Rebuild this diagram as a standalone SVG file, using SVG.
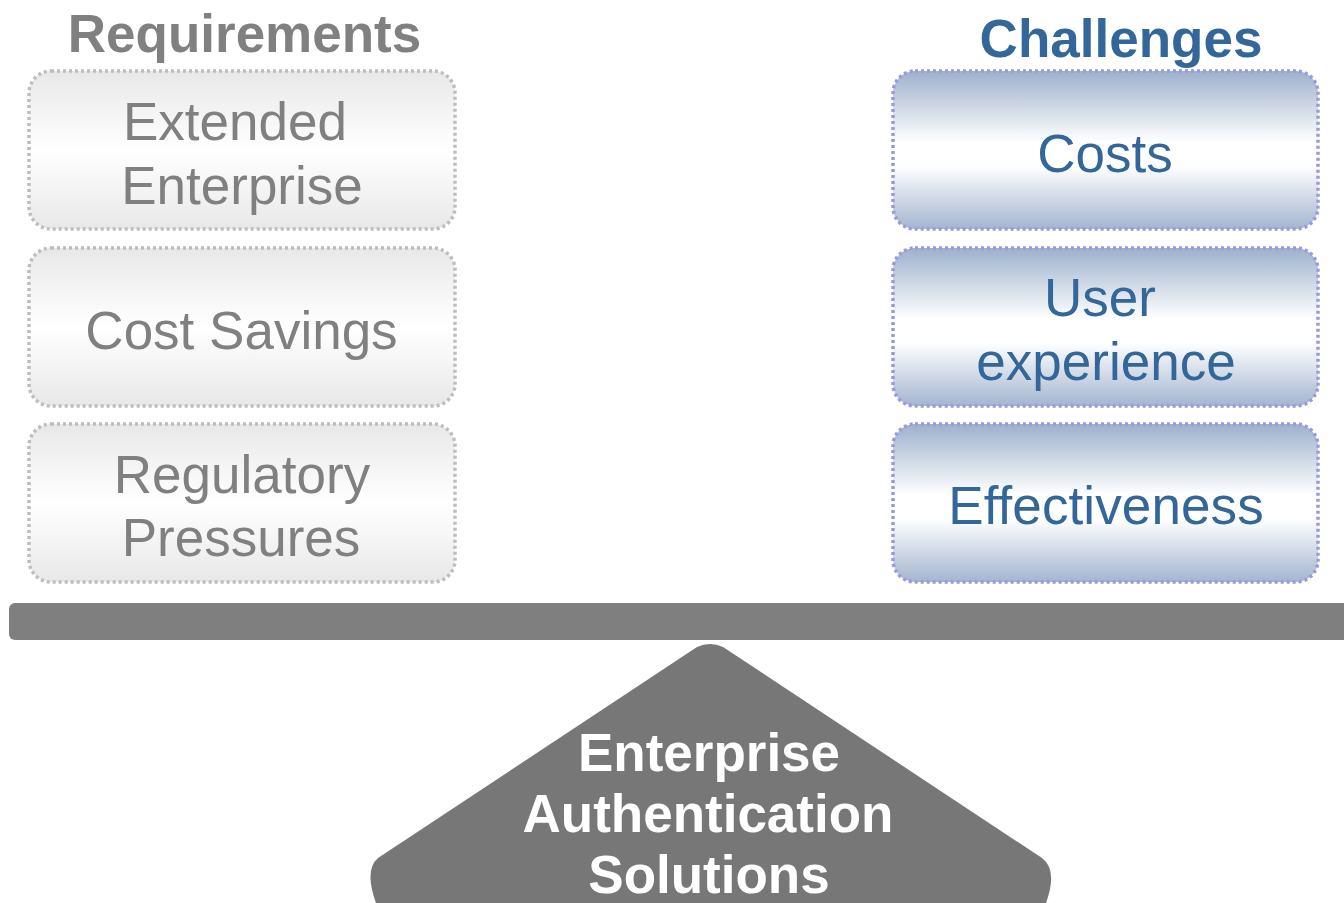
<svg xmlns="http://www.w3.org/2000/svg" width="1344" height="903" viewBox="0 0 1344 903">
<defs>
<linearGradient id="gGray" x1="0" y1="0" x2="0" y2="1">
<stop offset="0" stop-color="#e8e8e8"/>
<stop offset="0.5" stop-color="#ffffff"/>
<stop offset="1" stop-color="#e8e8e8"/>
</linearGradient>
<linearGradient id="gBlue" x1="0" y1="0" x2="0" y2="1">
<stop offset="0" stop-color="#9db1cc"/>
<stop offset="0.45" stop-color="#ffffff"/>
<stop offset="0.6" stop-color="#ffffff"/>
<stop offset="1" stop-color="#a3b5cf"/>
</linearGradient>
<style>
.lbox{fill:url(#gGray);stroke:#bdbdbd;stroke-width:3.5;stroke-dasharray:3 3}
.rbox{fill:url(#gBlue);stroke:#9999e0;stroke-width:3.5;stroke-dasharray:3 3}
.t{font-family:"Liberation Sans",Arial,sans-serif;font-size:53px;text-anchor:middle;font-variant-ligatures:none;font-feature-settings:"liga" 0}
.nolig{letter-spacing:0.1px}
.lt{fill:#808080}
.rt{fill:#336699}
.b{font-weight:bold}
.w{fill:#ffffff}
</style>
</defs>
<rect width="1344" height="903" fill="#ffffff"/>
<text class="t b lt" x="244.5" y="52">Requirements</text>
<text class="t b rt" x="1121" y="57">Challenges</text>
<g id="extended">
<rect class="lbox" x="29" y="71" width="426" height="158" rx="22"/>
<text class="t lt" x="235" y="140">Extended</text>
<text class="t lt" x="242" y="204">Enterprise</text>
</g>
<g id="cost-savings">
<rect class="lbox" x="29" y="248" width="426" height="158" rx="22"/>
<text class="t lt" x="241.5" y="349">Cost Savings</text>
</g>
<g id="regulatory">
<rect class="lbox" x="29" y="424" width="426" height="158" rx="22"/>
<text class="t lt" x="242" y="493">Regulatory</text>
<text class="t lt" x="241" y="556">Pressures</text>
</g>
<g id="costs">
<rect class="rbox" x="893" y="71" width="425" height="158" rx="22"/>
<text class="t rt" x="1105" y="172">Costs</text>
</g>
<g id="user-experience">
<rect class="rbox" x="893" y="248" width="425" height="158" rx="22"/>
<text class="t rt" x="1100" y="316">User</text>
<text class="t rt" x="1106" y="380">experience</text>
</g>
<g id="effectiveness">
<rect class="rbox" x="893" y="424" width="425" height="158" rx="22"/>
<text class="t rt nolig" x="1106" y="524">Effectiveness</text>
</g>
<g id="beam">
<rect x="9" y="603" width="1345" height="37" rx="6" fill="#7f7f7f"/>
</g>
<g id="fulcrum">
<path d="M 697 647 Q 710 641 723 647 L 1042 858 Q 1058 870 1046 903 L 376 903 Q 364 870 378 858 Z" fill="#777777"/>
<text class="t b w" x="709" y="771">Enterprise</text>
<text class="t b w" x="708" y="832">Authentication</text>
<text class="t b w" x="709" y="893">Solutions</text>
</g>
<g id="connectors"/>
</svg>
